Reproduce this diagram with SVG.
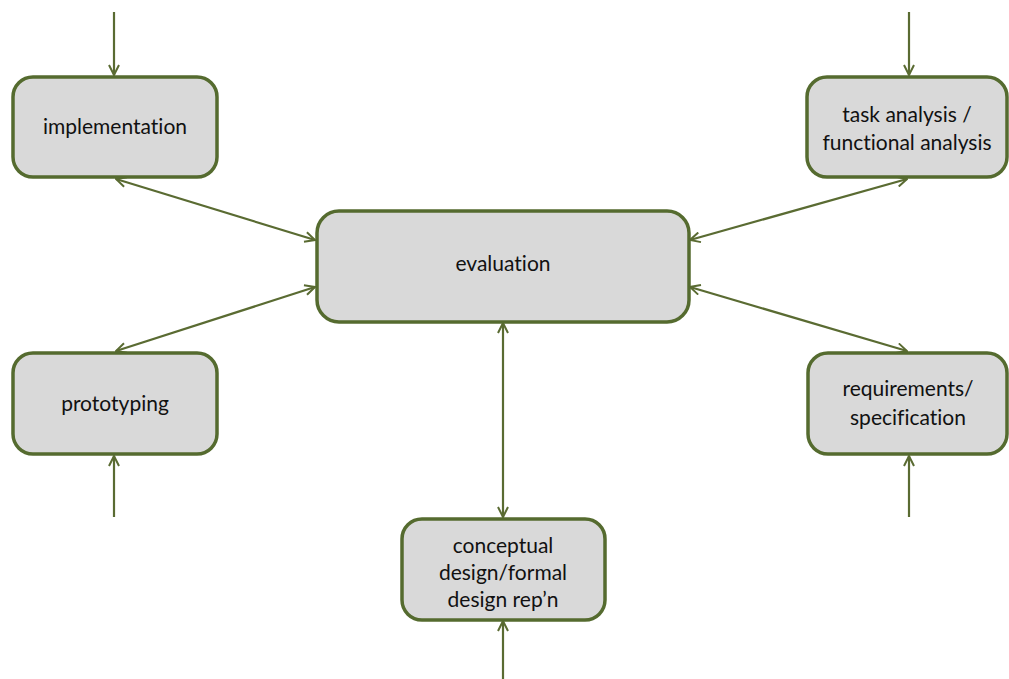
<svg xmlns="http://www.w3.org/2000/svg" width="1009" height="679" viewBox="0 0 1009 679">
  <style>
    .box { fill: #d9d9d9; stroke: #556b2f; stroke-width: 3.5; }
    .lbl { font-family: Lato, "Open Sans", "Liberation Sans", sans-serif; font-size: 21px; fill: #111; text-anchor: middle; font-variant-ligatures: none; }
    .conn { stroke: #5a6b32; stroke-width: 2.2; fill: none; }
  </style>
  <defs>
    <marker id="arrow" viewBox="0 0 12 12" refX="11" refY="6" markerWidth="12" markerHeight="12" markerUnits="userSpaceOnUse" orient="auto-start-reverse">
      <path d="M1,1 L11,6 L1,11" fill="none" stroke="#5a6b32" stroke-width="2"/>
    </marker>
  </defs>

  <rect width="1009" height="679" fill="#ffffff"/>

  <g id="connectors">
    <!-- incoming feeds -->
    <line class="conn" x1="114" y1="12" x2="114" y2="75" marker-end="url(#arrow)"/>
    <line class="conn" x1="909" y1="12" x2="909" y2="75" marker-end="url(#arrow)"/>
    <line class="conn" x1="114" y1="517" x2="114" y2="456" marker-end="url(#arrow)"/>
    <line class="conn" x1="909" y1="517" x2="909" y2="456" marker-end="url(#arrow)"/>
    <line class="conn" x1="503" y1="679" x2="503" y2="621" marker-end="url(#arrow)"/>
    <!-- two-way links to evaluation -->
    <line class="conn" x1="116" y1="179" x2="315" y2="240" marker-start="url(#arrow)" marker-end="url(#arrow)"/>
    <line class="conn" x1="116" y1="351" x2="315" y2="287" marker-start="url(#arrow)" marker-end="url(#arrow)"/>
    <line class="conn" x1="907" y1="179" x2="690" y2="240" marker-start="url(#arrow)" marker-end="url(#arrow)"/>
    <line class="conn" x1="907" y1="351" x2="690" y2="287" marker-start="url(#arrow)" marker-end="url(#arrow)"/>
    <line class="conn" x1="503" y1="323" x2="503" y2="517" marker-start="url(#arrow)" marker-end="url(#arrow)"/>
  </g>

  <g id="implementation">
    <rect class="box" x="13" y="77" width="204" height="100" rx="20"/>
    <text class="lbl" x="115" y="134">implementation</text>
  </g>

  <g id="task-analysis">
    <rect class="box" x="807" y="77" width="200" height="100" rx="20"/>
    <text class="lbl" x="907" y="122">task analysis /</text>
    <text class="lbl" x="907" y="150">functional analysis</text>
  </g>

  <g id="evaluation">
    <rect class="box" x="317" y="211" width="372" height="111" rx="22"/>
    <text class="lbl" x="503" y="271">evaluation</text>
  </g>

  <g id="prototyping">
    <rect class="box" x="13" y="353" width="204" height="101" rx="20"/>
    <text class="lbl" x="115" y="411">prototyping</text>
  </g>

  <g id="requirements">
    <rect class="box" x="808" y="353" width="199" height="101" rx="20"/>
    <text class="lbl" x="908" y="396">requirements/</text>
    <text class="lbl" x="908" y="425">specification</text>
  </g>

  <g id="conceptual-design">
    <rect class="box" x="402" y="519" width="203" height="101" rx="20"/>
    <text class="lbl" x="503" y="553">conceptual</text>
    <text class="lbl" x="503" y="580">design/formal</text>
    <text class="lbl" x="503" y="607">design rep’n</text>
  </g>
</svg>
